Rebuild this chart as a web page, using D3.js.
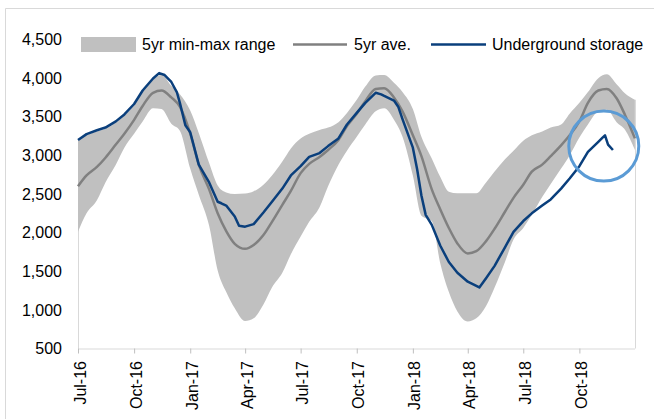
<!DOCTYPE html>
<html><head><meta charset="utf-8">
<script src="https://cdn.jsdelivr.net/npm/d3@7"></script>
<style>body{margin:0;background:#fff}svg{display:block;font-family:"Liberation Sans",Arial,sans-serif}</style>
</head><body><svg id="c" width="654" height="419"></svg>
<script>
// ---------- data ----------
const bandDates = ["2016-07-01","2016-07-15","2016-08-01","2016-08-15","2016-09-01","2016-09-15","2016-10-01","2016-10-15","2016-11-01","2016-11-15","2016-12-01","2016-12-15",
"2017-01-01","2017-01-15","2017-02-01","2017-02-15","2017-03-01","2017-03-15","2017-04-01","2017-04-15","2017-05-01","2017-05-15","2017-06-01","2017-06-15",
"2017-07-01","2017-07-15","2017-08-01","2017-08-15","2017-09-01","2017-09-15","2017-10-01","2017-10-15","2017-11-01","2017-11-15","2017-12-01","2017-12-15",
"2018-01-01","2018-01-15","2018-02-01","2018-02-15","2018-03-01","2018-03-15","2018-04-01","2018-04-15","2018-05-01","2018-05-15","2018-06-01","2018-06-15",
"2018-07-01","2018-07-15","2018-08-01","2018-08-15","2018-09-01","2018-09-15","2018-10-01","2018-10-15","2018-11-01","2018-11-15","2018-12-01","2018-12-15","2018-12-31"];
const bandMin = [2010,2250,2420,2650,2880,3100,3280,3440,3610,3600,3410,3320,
2830,2490,2090,1510,1230,1020,855,890,1070,1290,1480,1720,
1950,2140,2330,2600,2880,3060,3240,3400,3570,3610,3460,3240,
2740,2220,2150,1600,1230,980,850,890,1050,1290,1620,1910,
2060,2230,2460,2630,2830,3000,3230,3400,3570,3590,3430,3330,3070];
const bandMax = [3190,3260,3310,3345,3425,3515,3650,3825,3980,4045,3900,3790,
3580,3290,2900,2610,2520,2500,2505,2535,2620,2740,2920,3090,
3220,3280,3330,3360,3430,3550,3720,3890,4035,4040,3940,3820,
3600,3240,2960,2720,2530,2510,2509,2510,2650,2790,2950,3060,
3190,3260,3310,3360,3400,3540,3680,3820,4000,4050,3920,3800,3720];
const avgValues = [2600,2740,2850,2970,3140,3280,3460,3640,3810,3840,3750,3630,
3280,2880,2560,2250,2020,1855,1790,1840,1970,2140,2360,2540,
2770,2890,2980,3070,3200,3380,3540,3700,3860,3870,3750,3570,
3260,2990,2560,2300,2060,1860,1730,1760,1890,2050,2270,2450,
2620,2790,2880,2990,3130,3260,3440,3680,3840,3860,3740,3520,3220];
const storageDates = ["2016-07-01","2016-07-15","2016-08-01","2016-08-15","2016-09-01","2016-09-15","2016-10-01","2016-10-15","2016-11-01","2016-11-11","2016-11-20","2016-12-01","2016-12-10","2016-12-15","2016-12-24",
"2017-01-01","2017-01-15","2017-02-01","2017-02-15","2017-02-21","2017-03-01","2017-03-15","2017-03-22","2017-04-01","2017-04-15","2017-05-01","2017-05-15","2017-06-01","2017-06-15",
"2017-07-01","2017-07-15","2017-08-01","2017-08-15","2017-09-01","2017-09-15","2017-10-01","2017-10-15","2017-11-01","2017-11-10","2017-11-15","2017-12-01","2017-12-08","2017-12-15",
"2018-01-01","2018-01-08","2018-01-15","2018-01-22","2018-02-01","2018-02-15","2018-03-01","2018-03-15","2018-04-01","2018-04-20","2018-05-01","2018-05-15","2018-06-01","2018-06-15",
"2018-07-01","2018-07-15","2018-08-01","2018-08-15","2018-09-01","2018-09-15","2018-10-01","2018-10-15","2018-11-01","2018-11-08","2018-11-12","2018-11-17","2018-11-25"];
const storageValues = [3200,3275,3325,3360,3440,3530,3665,3840,3995,4065,4040,3950,3820,3680,3390,
3300,2880,2650,2400,2380,2350,2210,2090,2077,2110,2260,2400,2570,2740,
2860,2980,3030,3120,3220,3400,3550,3680,3810,3790,3770,3710,3630,3470,
3100,2820,2480,2230,2100,1830,1620,1480,1365,1290,1410,1570,1810,2010,
2150,2250,2350,2430,2570,2700,2860,3045,3175,3230,3260,3140,3070];
const yTicks = [500,1000,1500,2000,2500,3000,3500,4000,4500];
const xTickDates = ["2016-07-01","2016-10-01","2017-01-01","2017-04-01","2017-07-01","2017-10-01","2018-01-01","2018-04-01","2018-07-01","2018-10-01"];
const xTickLabels = ["Jul-16","Oct-16","Jan-17","Apr-17","Jul-17","Oct-17","Jan-18","Apr-18","Jul-18","Oct-18"];
const legendLabels = ["5yr min-max range","5yr ave.","Underground storage"];
const highlight = {date:"2018-11-10", value:3120};

// ---------- drawing ----------
const parse = d3.timeParse("%Y-%m-%d");
const svg = d3.select("#c");
const x = d3.scaleTime().domain([parse("2016-07-01"), parse("2019-01-01")]).range([78, 635.5]);
const y = d3.scaleLinear().domain([500, 4500]).range([348.5, 39.5]);
const FS = "16px";

// outer frame
svg.append("path").attr("d","M5.5,419V8.5H654").attr("fill","none").attr("stroke","#d9d9d9");

const band = bandDates.map((d,i)=>({d:parse(d), lo:bandMin[i], hi:bandMax[i], avg:avgValues[i]}));
const store = storageDates.map((d,i)=>({d:parse(d), v:storageValues[i]}));

// edges of the range area
const first = band[0], last = band[band.length-1];
[first,last].forEach(p=>{
  svg.append("line").attr("x1",Math.round(x(p.d))+0.5).attr("x2",Math.round(x(p.d))+0.5)
    .attr("y1",y(p.hi)).attr("y2",y(500)).attr("stroke","#d9d9d9").attr("stroke-width",1);
});

svg.append("path").datum(band)
  .attr("d", d3.area().x(p=>x(p.d)).y0(p=>y(p.lo)).y1(p=>y(p.hi)).curve(d3.curveMonotoneX))
  .attr("fill","#c0c0c0");

// x axis
const xa = svg.append("g").attr("transform","translate(0,"+y(500)+")")
  .call(d3.axisBottom(x).tickValues(xTickDates.map(parse)).tickSize(5).tickFormat(""));
xa.select(".domain").attr("stroke","#d9d9d9").attr("d","M78,0.5H635");
xa.selectAll(".tick line").attr("stroke","#bfbfbf");
xTickDates.forEach((d,i)=>{
  svg.append("text").attr("transform","translate("+(x(parse(d))+7.5)+",361) rotate(-90)")
    .attr("text-anchor","end").attr("font-size",FS).attr("fill","#000").text(xTickLabels[i]);
});

// y labels
const ya = svg.append("g").attr("transform","translate(62,0)")
  .call(d3.axisLeft(y).tickValues(yTicks).tickSize(0).tickPadding(0).tickFormat(d3.format(",")));
ya.select(".domain").remove();
ya.selectAll("text").attr("font-size",FS).attr("font-family","Liberation Sans, Arial, sans-serif").attr("fill","#000");

// lines
svg.append("path").datum(band)
  .attr("d", d3.line().x(p=>x(p.d)).y(p=>y(p.avg)).curve(d3.curveMonotoneX))
  .attr("fill","none").attr("stroke","#808080").attr("stroke-width",2.5);
svg.append("path").datum(store)
  .attr("d", d3.line().x(p=>x(p.d)).y(p=>y(p.v)))
  .attr("fill","none").attr("stroke","#0a3f7c").attr("stroke-width",2.5).attr("stroke-linejoin","round");

// highlight circle
svg.append("circle").attr("cx",x(parse(highlight.date))).attr("cy",y(highlight.value)).attr("r",35)
  .attr("fill","none").attr("stroke","#5b9bd5").attr("stroke-width",3);

// legend
const lg = svg.append("g").attr("font-size",FS);
lg.append("rect").attr("x",81).attr("y",37).attr("width",55).attr("height",15).attr("fill","#c0c0c0");
lg.append("text").attr("x",142).attr("y",49.5).text(legendLabels[0]);
lg.append("line").attr("x1",293).attr("x2",347).attr("y1",44.5).attr("y2",44.5).attr("stroke","#808080").attr("stroke-width",2.5);
lg.append("text").attr("x",354).attr("y",49.5).text(legendLabels[1]);
lg.append("line").attr("x1",431).attr("x2",486).attr("y1",44.5).attr("y2",44.5).attr("stroke","#0a3f7c").attr("stroke-width",2.5);
lg.append("text").attr("x",492).attr("y",49.5).text(legendLabels[2]);
</script></body></html>
